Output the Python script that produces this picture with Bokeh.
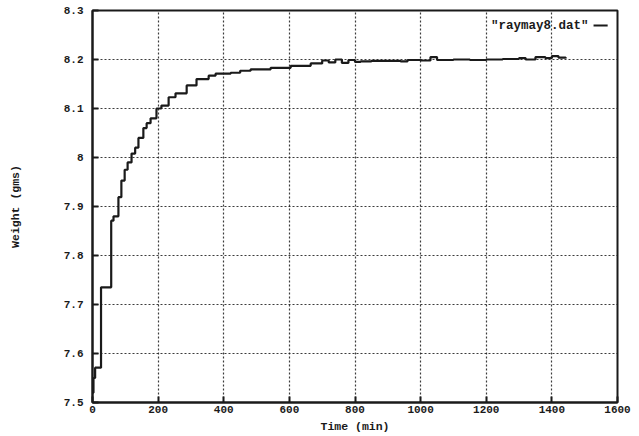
from bokeh.plotting import figure
from bokeh.models import Range1d, FixedTicker, Label, BoxAnnotation, ColumnDataSource
from bokeh.embed import file_html
from bokeh.resources import INLINE

# data
time_min = [0, 3, 8, 26, 57, 64, 79, 88, 98, 107, 119, 130, 140, 155, 165, 177, 195, 210,
            232, 253, 287, 317, 354, 375, 421, 450, 482, 543, 604, 665, 700, 720, 740, 760,
            780, 800, 817, 850, 900, 939, 960, 1000, 1030, 1050, 1100, 1150, 1200, 1250,
            1300, 1320, 1350, 1380, 1400, 1420, 1442]
weight_gms = [7.52, 7.55, 7.571, 7.735, 7.871, 7.88, 7.919, 7.953, 7.975, 7.99, 8.008, 8.02,
              8.04, 8.06, 8.07, 8.08, 8.10, 8.106, 8.123, 8.131, 8.147, 8.16, 8.167, 8.171,
              8.173, 8.177, 8.18, 8.183, 8.187, 8.192, 8.198, 8.194, 8.2, 8.193, 8.199, 8.195,
              8.196, 8.197, 8.197, 8.196, 8.199, 8.198, 8.205, 8.199, 8.2, 8.199, 8.2, 8.201,
              8.203, 8.2, 8.205, 8.203, 8.207, 8.204, 8.202]

x_ticks = [0, 200, 400, 600, 800, 1000, 1200, 1400, 1600]
y_ticks = [7.5, 7.6, 7.7, 7.8, 7.9, 8.0, 8.1, 8.2, 8.3]
y_tick_labels = ["7.5", "7.6", "7.7", "7.8", "7.9", "8", "8.1", "8.2", "8.3"]
series_name = '"raymay8.dat"'

FONT = "Liberation Mono"
INK = "#1a1a1a"

p = figure(width=639, height=436, output_backend="svg", toolbar_location=None,
           x_range=Range1d(0, 1600), y_range=Range1d(7.5, 8.3),
           min_border_left=92, min_border_right=22, min_border_top=10, min_border_bottom=34)
p.background_fill_color = "white"
p.border_fill_color = "white"
p.outline_line_color = INK
p.outline_line_width = 2

src = ColumnDataSource(dict(t=time_min, w=weight_gms))
p.step("t", "w", source=src, mode="after", line_color=INK, line_width=2.2)

# grid
for g in (p.xgrid, p.ygrid):
    g.grid_line_color = INK
    g.grid_line_dash = "2 2"
    g.grid_line_width = 1.2
    g.grid_line_alpha = 0.85
p.xgrid.ticker = FixedTicker(ticks=x_ticks)
p.ygrid.ticker = FixedTicker(ticks=y_ticks)

def style_axis(ax):
    ax.axis_line_color = INK
    ax.axis_line_width = 2
    ax.major_tick_in = 6
    ax.major_tick_out = 0
    ax.major_tick_line_color = INK
    ax.major_tick_line_width = 2
    ax.minor_tick_line_color = None
    ax.major_label_text_font = FONT
    ax.major_label_text_font_style = "bold"
    ax.major_label_text_color = INK
    ax.major_label_text_font_size = "11px"
    ax.axis_label_text_font = FONT
    ax.axis_label_text_font_style = "bold"
    ax.axis_label_text_color = INK
    ax.axis_label_text_font_size = "11.5px"

xa = p.xaxis[0]
xa.ticker = FixedTicker(ticks=x_ticks)
style_axis(xa)
xa.major_label_standoff = 3
xa.axis_label = "Time (min)"
xa.axis_label_standoff = 4

ya = p.yaxis[0]
ya.ticker = FixedTicker(ticks=y_ticks)
ya.major_label_overrides = {t: s for t, s in zip(y_ticks, y_tick_labels)}
style_axis(ya)
ya.major_label_standoff = 9
ya.major_label_orientation = "horizontal"
ya.axis_label = "Weight (gms)"
ya.axis_label_standoff = 39

# key (gnuplot style: text then line sample)
p.add_layout(Label(x=1512, y=8.269, text=series_name, text_font=FONT, text_font_style="bold",
                   text_font_size="12.5px", text_color=INK, text_align="right",
                   text_baseline="middle"))
p.add_layout(BoxAnnotation(left=1527, right=1570, bottom=8.2675, top=8.2715,
                           fill_color=INK, fill_alpha=1, line_color=None))

open("out.html", "w").write(file_html(p, INLINE))
